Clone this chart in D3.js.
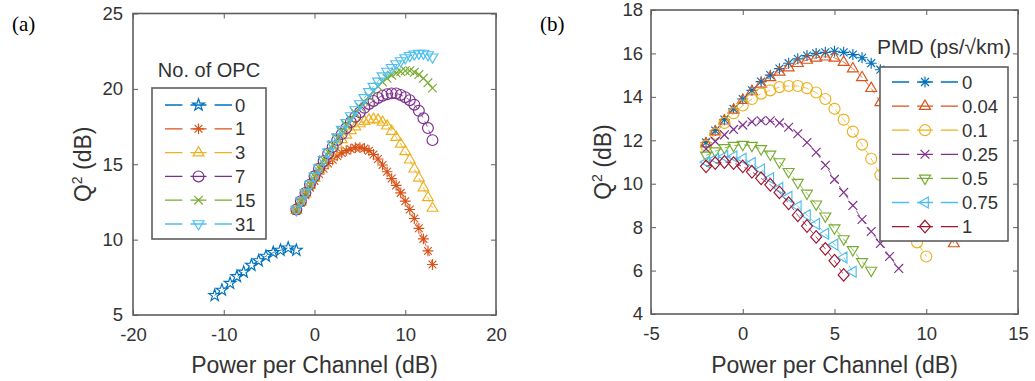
<!DOCTYPE html>
<html>
<head>
<meta charset="utf-8">
<script src="https://cdn.jsdelivr.net/npm/d3@7/dist/d3.min.js"></script>
<style>
  body { margin: 0; background: #fff; }
  svg { display: block; font-family: "Liberation Sans", Arial, sans-serif; }
</style>
</head>
<body>
<svg id="chart" width="1035" height="381"></svg>
<script>
// ---- panel (a): Q^2 vs launch power, number of OPCs ----
const powerA0 = [-11, -10.2, -9.3, -8.55, -7.8, -6.95, -6.15, -5.35, -4.55, -3.75, -2.9, -2.0];
const qA0 = [6.3, 6.65, 7.1, 7.55, 7.85, 8.3, 8.6, 8.9, 9.15, 9.3, 9.45, 9.3];
const powerA = [-2, -1.5, -1, -0.5, 0, 0.5, 1, 1.5, 2, 2.5, 3, 3.5, 4, 4.5, 5, 5.5, 6, 6.5, 7, 7.5, 8, 8.5, 9, 9.5, 10, 10.5, 11, 11.5, 12, 12.5, 13];
const qA1 = [11.9, 12.45, 12.95, 13.45, 13.9, 14.35, 14.7, 15.05, 15.3, 15.55, 15.75, 15.9, 16.0, 16.1, 16.1, 16.05, 15.9, 15.65, 15.35, 14.95, 14.5, 14.05, 13.6, 13.1, 12.55, 12.0, 11.4, 10.75, 10.05, 9.25, 8.35];
const qA3 = [11.95, 12.5, 13.05, 13.6, 14.1, 14.6, 15.05, 15.5, 15.9, 16.3, 16.65, 16.95, 17.25, 17.5, 17.7, 17.85, 17.95, 18.0, 17.95, 17.8, 17.55, 17.2, 16.8, 16.35, 15.85, 15.3, 14.7, 14.1, 13.45, 12.8, 12.1];
const qA7 = [12.0, 12.55, 13.1, 13.65, 14.2, 14.7, 15.2, 15.7, 16.15, 16.6, 17.0, 17.4, 17.8, 18.15, 18.45, 18.75, 19.0, 19.2, 19.4, 19.55, 19.65, 19.7, 19.7, 19.6, 19.45, 19.25, 18.95, 18.55, 18.05, 17.4, 16.6];
const qA15 = [12.0, 12.55, 13.1, 13.65, 14.2, 14.75, 15.3, 15.8, 16.3, 16.75, 17.2, 17.6, 18.0, 18.4, 18.8, 19.15, 19.5, 19.85, 20.15, 20.45, 20.7, 20.9, 21.05, 21.15, 21.2, 21.2, 21.1, 20.95, 20.7, 20.4, 20.05];
const qA31 = [12.0, 12.55, 13.1, 13.65, 14.2, 14.75, 15.3, 15.8, 16.3, 16.8, 17.3, 17.75, 18.2, 18.6, 19.0, 19.4, 19.8, 20.15, 20.5, 20.85, 21.15, 21.4, 21.65, 21.85, 22.05, 22.2, 22.3, 22.35, 22.35, 22.25, 22.1];
const opcLabels = ["0", "1", "3", "7", "15", "31"];
const xTicksA = [-20, -10, 0, 10, 20];
const yTicksA = [5, 10, 15, 20, 25];

// ---- panel (b): Q^2 vs launch power, PMD ----
const powerB = [-2, -1.5, -1, -0.5, 0, 0.5, 1, 1.5, 2, 2.5, 3, 3.5, 4, 4.5, 5, 5.5, 6, 6.5, 7, 7.5, 8, 8.5, 9, 9.5, 10, 10.5, 11, 11.5, 12];
const qB0 = [11.9, 12.45, 12.95, 13.45, 13.9, 14.3, 14.7, 15.0, 15.3, 15.55, 15.75, 15.9, 16.0, 16.05, 16.1, 16.05, 15.95, 15.8, 15.55, 15.25, 14.9, 14.45, 13.9, 13.3, 12.6, 11.8, 10.9, 9.9, 8.9];
const qB004 = [11.85, 12.4, 12.9, 13.4, 13.85, 14.25, 14.6, 14.9, 15.15, 15.35, 15.55, 15.7, 15.8, 15.85, 15.8, 15.6, 15.3, 14.9, 14.4, 13.75, 13.1, 12.4, 11.65, 10.9, 10.1, 9.2, 8.25, 7.25];
const qB01 = [11.75, 12.3, 12.8, 13.25, 13.6, 13.9, 14.15, 14.3, 14.45, 14.5, 14.5, 14.4, 14.2, 13.9, 13.45, 12.95, 12.4, 11.8, 11.15, 10.4, 9.65, 8.85, 8.05, 7.3, 6.65];
const qB025 = [11.6, 11.95, 12.25, 12.5, 12.7, 12.85, 12.9, 12.9, 12.8, 12.6, 12.3, 11.9, 11.45, 10.85, 10.2, 9.6, 9.0, 8.35, 7.8, 7.25, 6.65, 6.1];
const qB05 = [11.3, 11.5, 11.65, 11.75, 11.8, 11.75, 11.6, 11.35, 11.0, 10.55, 10.05, 9.55, 9.05, 8.5, 7.95, 7.45, 6.95, 6.4, 6.0];
const qB075 = [11.0, 11.15, 11.25, 11.25, 11.15, 10.95, 10.65, 10.25, 9.8, 9.4, 8.95, 8.55, 8.15, 7.7, 7.2, 6.6, 5.95];
const qB1 = [10.8, 10.95, 11.0, 10.95, 10.8, 10.55, 10.25, 9.95, 9.6, 9.1, 8.55, 8.05, 7.55, 7.0, 6.45, 5.8];
const pmdLabels = ["0", "0.04", "0.1", "0.25", "0.5", "0.75", "1"];
const xTicksB = [-5, 0, 5, 10, 15];
const yTicksB = [4, 6, 8, 10, 12, 14, 16, 18];

// matlab default colour order
const C = ["#0072BD", "#D95319", "#EDB120", "#7E2F8E", "#77AC30", "#4DBEEE", "#A2142F"];
const textColor = "#333";
const boxColor = "#5e5e5e";

const svg = d3.select("#chart");

// outline marker shapes, centred on 0,0
function markerPath(type, r) {
  switch (type) {
    case "circle":
      return `M${r},0A${r},${r} 0 1 1 ${-r},0A${r},${r} 0 1 1 ${r},0Z`;
    case "up":
      return `M0,${-1.1 * r}L${r},${0.6 * r}L${-r},${0.6 * r}Z`;
    case "down":
      return `M0,${1.1 * r}L${r},${-0.6 * r}L${-r},${-0.6 * r}Z`;
    case "left":
      return `M${-1.1 * r},0L${0.6 * r},${-r}L${0.6 * r},${r}Z`;
    case "diamond":
      return `M0,${-1.15 * r}L${r},0L0,${1.15 * r}L${-r},0Z`;
    case "x": {
      const a = 0.8 * r;
      return `M${-a},${-a}L${a},${a}M${-a},${a}L${a},${-a}`;
    }
    case "asterisk": {
      const a = 0.72 * r;
      return `M${-r},0L${r},0M0,${-r}L0,${r}M${-a},${-a}L${a},${a}M${-a},${a}L${a},${-a}`;
    }
    case "star": {
      let p = "";
      for (let i = 0; i < 10; i++) {
        const rr = i % 2 === 0 ? 1.15 * r : 0.45 * r;
        const ang = -Math.PI / 2 + i * Math.PI / 5;
        p += (i === 0 ? "M" : "L") + (rr * Math.cos(ang)).toFixed(2) + "," + (rr * Math.sin(ang)).toFixed(2);
      }
      return p + "Z";
    }
  }
}

function drawPanel(p) {
  const x = d3.scaleLinear().domain(p.xDomain).range([p.left, p.right]);
  const y = d3.scaleLinear().domain(p.yDomain).range([p.bottom, p.top]);
  const g = svg.append("g");

  // ticks on all four sides, pointing in
  const fmt = d => String(d);
  const styleAxis = sel => {
    sel.select(".domain").remove();
    sel.selectAll("line").attr("stroke", boxColor);
    sel.selectAll("text").attr("fill", textColor).style("font-size", "18.5px").attr("font-family", null);
  };
  g.append("g").attr("transform", `translate(0,${p.bottom})`)
    .call(d3.axisBottom(x).tickValues(p.xTicks).tickSizeInner(-5).tickSizeOuter(0).tickPadding(13).tickFormat(fmt))
    .call(styleAxis);
  g.append("g").attr("transform", `translate(0,${p.top})`)
    .call(d3.axisTop(x).tickValues(p.xTicks).tickSizeInner(-5).tickSizeOuter(0).tickFormat(""))
    .call(styleAxis);
  g.append("g").attr("transform", `translate(${p.left},0)`)
    .call(d3.axisLeft(y).tickValues(p.yTicks).tickSizeInner(-5).tickSizeOuter(0).tickPadding(p.yPad).tickFormat(fmt))
    .call(styleAxis);
  g.append("g").attr("transform", `translate(${p.right},0)`)
    .call(d3.axisRight(y).tickValues(p.yTicks).tickSizeInner(-5).tickSizeOuter(0).tickFormat(""))
    .call(styleAxis);

  // series: dashed line + markers
  const line = d3.line().x(d => x(d[0])).y(d => y(d[1]));
  p.series.forEach(s => {
    const pts = s.q.map((v, i) => [s.x[i], v]);
    const sg = g.append("g");
    sg.append("path").attr("d", line(pts)).attr("fill", "none")
      .attr("stroke", s.color).attr("stroke-width", 0.8).attr("stroke-dasharray", "6,4");
    sg.selectAll("path.m").data(pts).enter().append("path")
      .attr("class", "m")
      .attr("transform", d => `translate(${x(d[0])},${y(d[1])})`)
      .attr("d", markerPath(s.marker, p.msize))
      .attr("fill", "none").attr("stroke", s.color).attr("stroke-width", 1.15);
  });

  // axes box
  g.append("rect").attr("x", p.left).attr("y", p.top)
    .attr("width", p.right - p.left).attr("height", p.bottom - p.top)
    .attr("fill", "none").attr("stroke", boxColor).attr("stroke-width", 1.6);

  // axis labels
  g.append("text").attr("x", (p.left + p.right) / 2).attr("y", 373)
    .attr("text-anchor", "middle").attr("fill", textColor).style("font-size", "23px")
    .text("Power per Channel (dB)");
  const yl = g.append("text")
    .attr("transform", `translate(${p.yLabelX},${(p.top + p.bottom) / 2}) rotate(-90)`)
    .attr("text-anchor", "middle").attr("fill", textColor).style("font-size", "23px");
  yl.append("tspan").text("Q");
  yl.append("tspan").attr("dy", -9).style("font-size", "14px").text("2");
  yl.append("tspan").attr("dy", 9).text(" (dB)");

  // panel letter
  svg.append("text").attr("x", p.letterX).attr("y", 31)
    .attr("font-family", "'Liberation Serif', 'Times New Roman', serif")
    .style("font-size", "21px").attr("fill", "#000").text(p.letter);

  // legend
  const L = p.legend;
  const lg = g.append("g");
  lg.append("rect").attr("x", L.x0).attr("y", L.y0).attr("width", L.x1 - L.x0).attr("height", L.y1 - L.y0)
    .attr("fill", "#fff").attr("stroke", boxColor).attr("stroke-width", 1.6);
  lg.append("text").attr("x", L.titleX).attr("y", L.titleY).attr("text-anchor", "middle")
    .attr("fill", textColor).style("font-size", L.titleSize).text(L.title);
  p.series.forEach((s, i) => {
    const ry = L.rowY0 + i * L.rowStep;
    const len = L.lineX1 - L.lineX0;
    const dash = len * 0.26, gap = len * 0.12;
    lg.append("line").attr("x1", L.lineX0).attr("x2", L.lineX1).attr("y1", ry).attr("y2", ry)
      .attr("stroke", s.color).attr("stroke-width", 1.3)
      .attr("stroke-dasharray", `${dash},${gap},${len - 2 * dash - 2 * gap},${gap},${dash}`);
    lg.append("path").attr("transform", `translate(${(L.lineX0 + L.lineX1) / 2},${ry})`)
      .attr("d", markerPath(s.marker, p.msize)).attr("fill", "none")
      .attr("stroke", s.color).attr("stroke-width", 1.2);
    lg.append("text").attr("x", L.textX).attr("y", ry).attr("dy", "0.36em")
      .attr("fill", textColor).style("font-size", "18.5px").text(s.label);
  });
}

drawPanel({
  letter: "(a)", letterX: 12,
  left: 133, right: 496, top: 13.5, bottom: 315,
  xDomain: [-20, 20], yDomain: [5, 25], xTicks: xTicksA, yTicks: yTicksA,
  yPad: 10, yLabelX: 91, msize: 5.4,
  series: [
    { x: powerA0, q: qA0, color: C[0], marker: "star", label: opcLabels[0] },
    { x: powerA, q: qA1, color: C[1], marker: "asterisk", label: opcLabels[1] },
    { x: powerA, q: qA3, color: C[2], marker: "up", label: opcLabels[2] },
    { x: powerA, q: qA7, color: C[3], marker: "circle", label: opcLabels[3] },
    { x: powerA, q: qA15, color: C[4], marker: "x", label: opcLabels[4] },
    { x: powerA, q: qA31, color: C[5], marker: "down", label: opcLabels[5] }
  ],
  legend: {
    x0: 152, x1: 266, y0: 88, y1: 239, title: "No. of OPC", titleX: 209, titleY: 77, titleSize: "20px",
    rowY0: 105, rowStep: 23.8, lineX0: 165, lineX1: 232, textX: 235
  }
});

drawPanel({
  letter: "(b)", letterX: 540,
  left: 651, right: 1018, top: 10, bottom: 314,
  xDomain: [-5, 15], yDomain: [4, 18], xTicks: xTicksB, yTicks: yTicksB,
  yPad: 8, yLabelX: 611, msize: 5.5,
  series: [
    { x: powerB, q: qB0, color: C[0], marker: "asterisk", label: pmdLabels[0] },
    { x: powerB, q: qB004, color: C[1], marker: "up", label: pmdLabels[1] },
    { x: powerB, q: qB01, color: C[2], marker: "circle", label: pmdLabels[2] },
    { x: powerB, q: qB025, color: C[3], marker: "x", label: pmdLabels[3] },
    { x: powerB, q: qB05, color: C[4], marker: "down", label: pmdLabels[4] },
    { x: powerB, q: qB075, color: C[5], marker: "left", label: pmdLabels[5] },
    { x: powerB, q: qB1, color: C[6], marker: "diamond", label: pmdLabels[6] }
  ],
  legend: {
    x0: 880, x1: 1008, y0: 67, y1: 241, title: "PMD (ps/\u221Akm)", titleX: 944, titleY: 54, titleSize: "21px",
    rowY0: 82, rowStep: 24.1, lineX0: 892, lineX1: 958, textX: 962
  }
});
</script>
</body>
</html>
